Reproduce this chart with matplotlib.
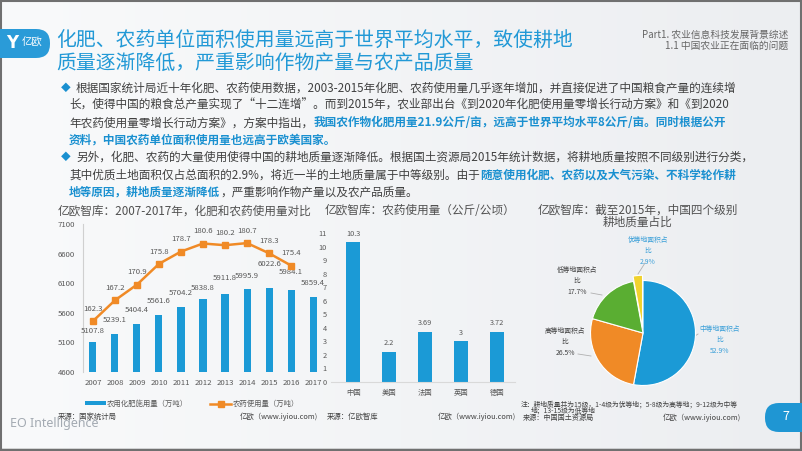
import matplotlib
matplotlib.use('Agg')
import matplotlib.pyplot as plt
import numpy as np
from matplotlib.patches import FancyBboxPatch, Rectangle
from matplotlib.colors import LinearSegmentedColormap

plt.rcParams['font.family'] = ['Noto Sans CJK SC', 'DejaVu Sans']

# ---- data ----
years = ['2007', '2008', '2009', '2010', '2011', '2012', '2013', '2014', '2015', '2016', '2017']
fert = [5107.8, 5239.1, 5404.4, 5561.6, 5704.2, 5838.8, 5911.8, 5995.9, 6022.6, 5984.1, 5859.4]
pest = [162.3, 167.2, 170.9, 175.8, 178.7, 180.6, 180.2, 180.7, 178.3, 175.4]
countries = ['中国', '美国', '法国', '英国', '德国']
pest_per_ha = [10.3, 2.2, 3.69, 3, 3.72]
land_names = ['中等地面积占', '高等地面积占', '低等地面积占', '优等地面积占']
land_share = [52.9, 26.5, 17.7, 2.9]

W, H = 802, 451
BLUE = '#1b9ad6'
ORANGE = '#f08a26'
GREEN = '#5aae32'
YELLOW = '#f0d22e'
TXT = '#404040'
GRAY = '#595959'
HL = '#1a90d0'
BODY = 8.4


def box(x0, y0, x1, y1):
    return [x0 / W, 1 - y1 / H, (x1 - x0) / W, (y1 - y0) / H]


fig = plt.figure(figsize=(W / 100, H / 100), dpi=100)
bg = fig.add_axes([0, 0, 1, 1], zorder=0)
bg.set_xlim(0, W)
bg.set_ylim(H, 0)
bg.axis('off')
grad = np.linspace(0, 1, 256).reshape(1, -1)
bg.imshow(grad, extent=[0, W, H, 0], aspect='auto',
          cmap=LinearSegmentedColormap.from_list('bg', ['#f9fafb', '#eceef1']))
bg.add_patch(Rectangle((0.5, 0.5), W - 1.5, H - 2, fill=False, ec='#707070', lw=1.5))
bg.plot([0, W], [449.5, 449.5], color='#707070', lw=2.5)


def txt(x, y, s, size, color=TXT, ha='left', va='center', **kw):
    return bg.text(x, y, s, fontsize=size, color=color, ha=ha, va=va, **kw)


renderer = fig.canvas.get_renderer()


def seg_line(x, y, parts, size=BODY):
    for s, bold in parts:
        t = txt(x, y, s, size, color=HL if bold else TXT,
                fontweight='bold' if bold else 'normal')
        x += t.get_window_extent(renderer).width


# ---- header ----
bg.add_patch(FancyBboxPatch((-20, 29), 70, 29, boxstyle='round,pad=0,rounding_size=14',
                            fc='#2a9bd8', ec='none'))
txt(12, 43, 'Y', 12, color='white', ha='center', fontweight='bold', family='DejaVu Sans')
txt(32, 43, '亿欧', 7.5, color='white', ha='center')

TITLE = '#2299d6'
txt(56, 41, '化肥、农药单位面积使用量远高于世界平均水平，致使耕地', 14.3, color=TITLE)
txt(56, 63, '质量逐渐降低，严重影响作物产量与农产品质量', 14.3, color=TITLE)
txt(788, 35, 'Part1. 农业信息科技发展背景综述', 7, color='#666666', ha='right')
txt(788, 46, '1.1 中国农业正在面临的问题', 7, color='#666666', ha='right')

# ---- bullets ----
txt(61, 88, '◆', 7, color=HL)
txt(61, 157, '◆', 7, color=HL)
seg_line(76, 88, [('根据国家统计局近十年化肥、农药使用数据，2003-2015年化肥、农药使用量几乎逐年增加，并直接促进了中国粮食产量的连续增', False)])
seg_line(69, 105, [('长，使得中国的粮食总产量实现了“十二连增”。而到2015年，农业部出台《到2020年化肥使用量零增长行动方案》和《到2020', False)])
seg_line(69, 123, [('年农药使用量零增长行动方案》，方案中指出，', False),
                   ('我国农作物化肥用量21.9公斤/亩，远高于世界平均水平8公斤/亩。同时根据公开', True)])
seg_line(69, 140, [('资料，中国农药单位面积使用量也远高于欧美国家。', True)])
seg_line(76, 157, [('另外，化肥、农药的大量使用使得中国的耕地质量逐渐降低。根据国土资源局2015年统计数据，将耕地质量按照不同级别进行分类，', False)])
seg_line(69, 175, [('其中优质土地面积仅占总面积的2.9%，将近一半的土地质量属于中等级别。由于', False),
                   ('随意使用化肥、农药以及大气污染、不科学轮作耕', True)])
seg_line(69, 192, [('地等原因，耕地质量逐渐降低', True), ('，严重影响作物产量以及农产品质量。', False)])

# ---- chart 1: fertilizer bars + pesticide line ----
txt(58, 211, '亿欧智库：2007-2017年，化肥和农药使用量对比', 8.4, color='#505050')
ax1 = fig.add_axes(box(83, 224, 323, 372), zorder=2)
ax1.patch.set_alpha(0)
x = np.arange(len(years))
bars = ax1.bar(x, fert, width=0.32, color=BLUE, label='农用化肥施用量（万吨）')
ax1.set_xlim(-0.45, 10.45)
ax1.set_ylim(4600, 7100)
ax1.set_yticks(range(4600, 7101, 500))
ax1.set_xticks(x, years)
ax1.tick_params(length=0, labelsize=5.6, labelcolor=GRAY)
ax1.tick_params(axis='y', pad=5.5)
ax1.tick_params(axis='x', pad=5)
for s in ['top', 'right', 'bottom']:
    ax1.spines[s].set_visible(False)
ax1.spines['left'].set_color('#d0d0d0')
ax1.spines['left'].set_linewidth(0.8)
bar_dy = [7, 10, 10, 10, 10, 7, 12, 9, 20, 14, 10]
for i, v in enumerate(fert):
    ax1.annotate(f'{v:.1f}', (i, v), xytext=(0, bar_dy[i] * 0.72), textcoords='offset points',
                 ha='center', va='bottom', fontsize=5.6, color=GRAY)

ax1b = ax1.twinx()
ax1b.set_ylim(150.3, 185.2)
ax1b.axis('off')
line, = ax1b.plot(x[:len(pest)], pest, color=ORANGE, lw=1.8, marker='s', ms=4,
                  label='农药使用量（万吨）')
for i, v in enumerate(pest):
    ax1b.annotate(f'{v:.1f}', (i, v), xytext=(0, 6), textcoords='offset points',
                  ha='center', va='bottom', fontsize=5.6, color=GRAY)

fig.legend(handles=[bars, line], loc='center', bbox_to_anchor=(192 / W, 1 - 404 / H),
           ncol=2, frameon=False, fontsize=5.3, labelcolor=GRAY, handlelength=2.8,
           handleheight=0.5, columnspacing=3, handletextpad=0.2)
txt(58, 417, '来源：国家统计局', 5.3, color=TXT)
txt(318, 417, '亿欧（www.iyiou.com)', 5.3, color=TXT, ha='right')

# ---- chart 2: pesticide per hectare ----
txt(325, 211, '亿欧智库：农药使用量（公斤/公顷）', 8.4, color='#505050')
ax2 = fig.add_axes(box(331, 233, 515, 382), zorder=2)
ax2.patch.set_alpha(0)
c = np.arange(len(countries))
ax2.bar(c, pest_per_ha, width=0.39, color=BLUE)
ax2.set_xlim(-0.62, 4.5)
ax2.set_ylim(0, 11)
ax2.set_yticks(range(0, 12))
ax2.set_xticks(c, countries)
ax2.tick_params(length=0, labelsize=5.3, labelcolor=GRAY)
ax2.tick_params(axis='y', pad=3)
ax2.tick_params(axis='x', pad=5)
for s in ['top', 'right', 'left']:
    ax2.spines[s].set_visible(False)
ax2.spines['bottom'].set_color('#d9d9d9')
ax2.spines['bottom'].set_linewidth(0.8)
for i, v in enumerate(pest_per_ha):
    ax2.annotate(f'{v:g}', (i, v), xytext=(0, 3.5), textcoords='offset points',
                 ha='center', va='bottom', fontsize=5.3, color=GRAY)
txt(327, 417, '来源：亿欧智库', 5.3, color=TXT)
txt(516, 417, '亿欧（www.iyiou.com)', 5.3, color=TXT, ha='right')

# ---- chart 3: pie ----
txt(638, 210, '亿欧智库：截至2015年，中国四个级别', 8.4, color='#505050', ha='center')
txt(638, 222, '耕地质量占比', 8.4, color='#505050', ha='center')
ax3 = fig.add_axes(box(563, 253, 723, 413), zorder=2)
ax3.pie(land_share, colors=[BLUE, ORANGE, GREEN, YELLOW], startangle=90, counterclock=False,
        explode=[0, 0, 0, 0.1], wedgeprops=dict(edgecolor='white', linewidth=0.8))
ax3.set_xlim(-1.524, 1.524)
ax3.set_ylim(-1.524, 1.524)
ax3.axis('off')

label_pos = [(720, 329), (565, 331), (577, 270), (648, 240)]
label_col = ['#3a9fd8', TXT, TXT, '#3a9fd8']
for (lx, ly), name, v, col in zip(label_pos, land_names, land_share, label_col):
    txt(lx, ly, name, 4.9, color=col, ha='center')
    txt(lx, ly + 11, '比', 4.9, color=col, ha='center')
    txt(lx, ly + 22, f'{v}%', 4.9, color=col, ha='center')
lead = '#b0b0b0'
bg.plot([645, 638], [263, 274], color=lead, lw=0.6)
bg.plot([591, 602], [293, 295], color=lead, lw=0.6)
bg.plot([578, 591], [354, 356], color=lead, lw=0.6)
bg.plot([695, 698], [336, 334], color=lead, lw=0.6)

txt(521, 404.5, '注：耕地质量共为15级，1-4级为优等地；5-8级为高等地；9-12级为中等', 4.9, color=TXT)
txt(531, 411, '地；13-15级为低等地', 4.9, color=TXT)
txt(523, 418, '来源：中国国土资源局', 5.1, color=TXT)
txt(741, 418, '亿欧（www.iyiou.com)', 5.3, color=TXT, ha='right')

# ---- footer ----
txt(10, 423, 'EO Intelligence', 9, color='#a3aab2', family='Noto Sans')
bg.add_patch(FancyBboxPatch((765, 403), 60, 29, boxstyle='round,pad=0,rounding_size=14',
                            fc='#1f96d3', ec='none'))
txt(786, 417, '7', 9, color='white', ha='center')

fig.savefig('out.png', dpi=100)
